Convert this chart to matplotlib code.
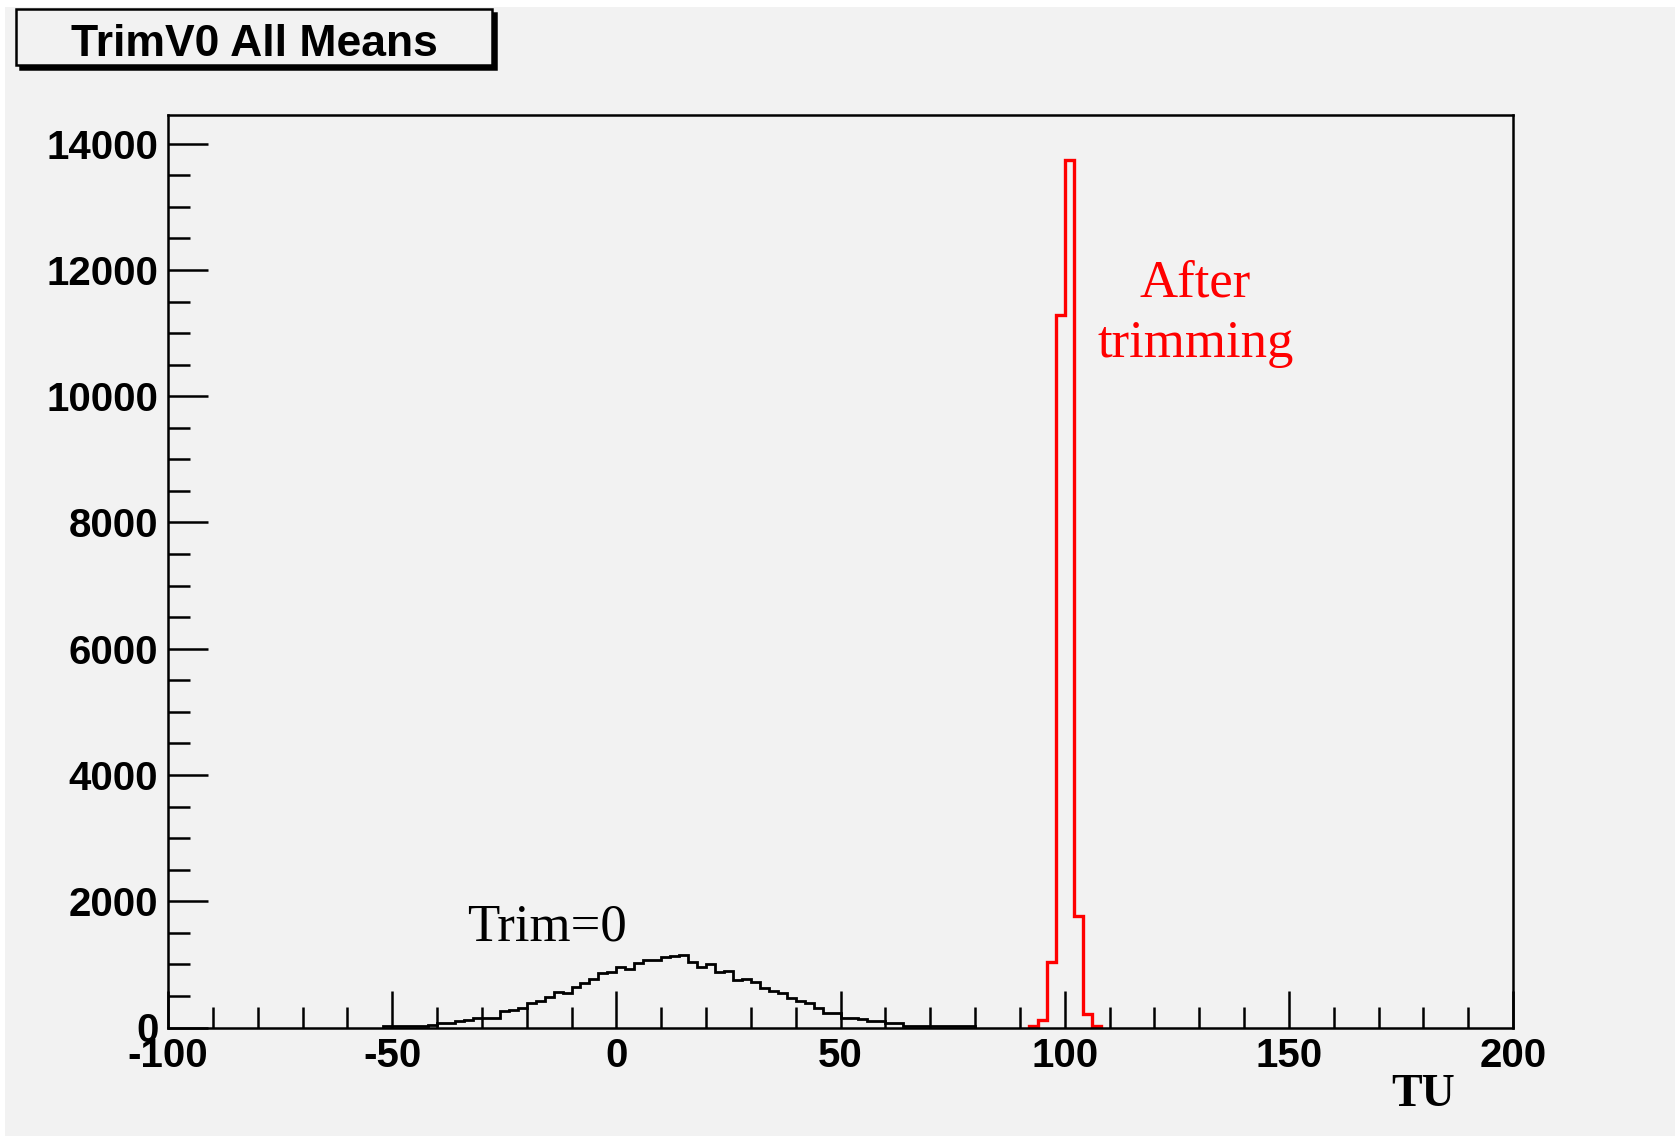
import numpy as np
import matplotlib
matplotlib.use('Agg')
import matplotlib.pyplot as plt
from matplotlib.patches import Rectangle
from matplotlib.ticker import MultipleLocator

plt.rcParams['axes.unicode_minus'] = False

# Trim=0 histogram, 2 TU bins from -52 to 80
black_lo = -52
black_counts = [20, 20, 25, 25, 30, 35,
                67, 70, 110, 118, 150, 152, 155, 262, 270, 304,
                390, 420, 489, 568, 542, 647, 700, 763, 870, 880,
                954, 922, 1028, 1062, 1075, 1118, 1128, 1149, 1033, 964,
                1002, 880, 888, 760, 768, 727, 621, 584, 542, 462,
                420, 383, 304, 228, 222, 148, 145, 142, 110, 106,
                68, 64, 30, 28, 25, 25, 22, 20, 20, 18]

# after trimming, 2 TU bins from 92 to 108
red_lo = 92
red_counts = [25, 120, 1034, 11280, 13740, 1772, 210, 25]

bin_w = 2
black_edges = black_lo + bin_w*np.arange(len(black_counts)+1)
red_edges = red_lo + bin_w*np.arange(len(red_counts)+1)

bg = '#f2f2f2'
W, H = 1675, 1136
fig = plt.figure(figsize=(W/100, H/100), dpi=100, facecolor='white')
fig.patches.append(Rectangle((5/W, 0), 1, 1-7/H, transform=fig.transFigure,
                             fc=bg, ec='none', zorder=-10))

ax = fig.add_axes([168/W, 1-1027.5/H, (1513-168)/W, (1027.5-115.3)/H])
ax.set_facecolor(bg)

ax.stairs(black_counts, black_edges, baseline=0, color='black', lw=2.0)
ax.stairs(red_counts, red_edges, baseline=0, color='#ff0000', lw=2.4)

ax.set_xlim(-100, 200)
ax.set_ylim(0, 14450)

ax.xaxis.set_major_locator(MultipleLocator(50))
ax.xaxis.set_minor_locator(MultipleLocator(10))
ax.yaxis.set_major_locator(MultipleLocator(2000))
ax.yaxis.set_minor_locator(MultipleLocator(500))
ax.tick_params(axis='x', which='major', direction='in', length=27, width=1.8, pad=7)
ax.tick_params(axis='x', which='minor', direction='in', length=15, width=1.8)
ax.tick_params(axis='y', which='major', direction='in', length=29, width=1.8, pad=7)
ax.tick_params(axis='y', which='minor', direction='in', length=16, width=1.8)
for lab in ax.get_xticklabels() + ax.get_yticklabels():
    lab.set_fontfamily('Liberation Sans')
    lab.set_fontweight('bold')
    lab.set_fontsize(29)
for s in ax.spines.values():
    s.set_linewidth(1.8)

serif = 'Liberation Serif'
ax.text(129.2, 11580, 'After', color='#ff0000', family=serif, fontsize=38,
        ha='center', va='baseline')
ax.text(129.2, 10615, 'trimming', color='#ff0000', family=serif, fontsize=38,
        ha='center', va='baseline')
ax.text(-15.5, 1371, 'Trim=0', color='black', family=serif, fontsize=38,
        ha='center', va='baseline')

fig.text(1423/W, 1-1095/H, 'TU', family=serif, fontweight='bold', fontsize=33,
         ha='center', va='center')

# title box with shadow
bx0, bx1, by0, by1 = 16, 492, 9.3, 64.5
fig.patches.append(Rectangle((bx0/W + 4/W, 1-by1/H - 4/H), (bx1-bx0)/W, (by1-by0)/H,
                             transform=fig.transFigure, fc='black', ec='black', lw=1.8))
fig.patches.append(Rectangle((bx0/W, 1-by1/H), (bx1-bx0)/W, (by1-by0)/H,
                             transform=fig.transFigure, fc=bg, ec='black', lw=1.8))
fig.text((bx0+bx1)/2/W, 1-56/H, 'TrimV0 All Means', family='Liberation Sans',
         fontweight='bold', fontsize=32, ha='center', va='baseline')

fig.savefig('out.png', dpi=100, facecolor=fig.get_facecolor())
